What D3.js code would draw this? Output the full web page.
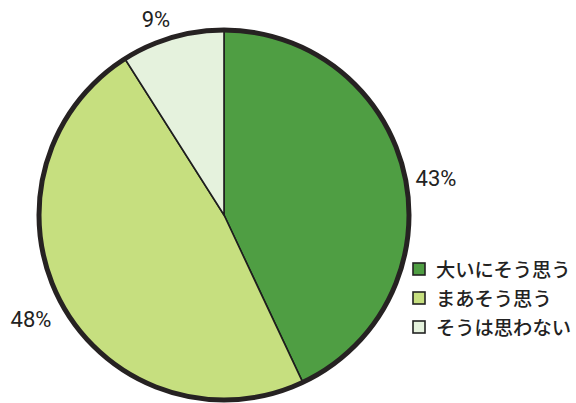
<!DOCTYPE html>
<html><head><meta charset="utf-8">
<script src="https://cdn.jsdelivr.net/npm/d3@7"></script>
<style>body{margin:0;background:#fff}svg{display:block}</style>
</head><body>
<script>
const categories = ["大いにそう思う", "まあそう思う", "そうは思わない"];
const values = [43, 48, 9];
const labels = ["43%", "48%", "9%"];
const colors = ["#4f9e43", "#c6df7f", "#e5f2dd"];

const W = 576, H = 403;
const cx = 224, cy = 215, R = 185;
const svg = d3.select("body").append("svg").attr("width", W).attr("height", H);

const pie = d3.pie().sort(null).value(d => d)(values);
const arc = d3.arc().innerRadius(0).outerRadius(R);
const g = svg.append("g").attr("transform", `translate(${cx},${cy})`);
g.selectAll("path.s").data(pie).join("path")
  .attr("d", arc).attr("fill", (d, i) => colors[i])
  .attr("stroke", "#1e1e1e").attr("stroke-width", 1.6);
g.append("circle").attr("r", R).attr("fill", "none")
  .attr("stroke", "#262222").attr("stroke-width", 5);

// percentage labels
const labelPos = [[436, 178], [31, 319], [156, 19]];
svg.selectAll("text.pct").data(labels).join("text")
  .attr("x", (d, i) => labelPos[i][0]).attr("y", (d, i) => labelPos[i][1])
  .attr("text-anchor", "middle").attr("dominant-baseline", "central")
  .attr("font-family", "Roboto, 'Liberation Sans', sans-serif")
  .attr("font-size", 22).attr("fill", "#222").text(d => d);

// legend
const lg = svg.append("g");
const ly = d3.scalePoint().domain(categories).range([269, 327]);
lg.selectAll("rect").data(categories).join("rect")
  .attr("x", 413).attr("y", d => ly(d) - 6).attr("width", 12).attr("height", 12)
  .attr("fill", (d, i) => colors[i]).attr("stroke", "#222").attr("stroke-width", 1.6);
lg.selectAll("text").data(categories).join("text")
  .attr("x", 436).attr("y", d => ly(d)).attr("dominant-baseline", "central")
  .attr("font-family", "'Noto Sans CJK JP', sans-serif").attr("font-weight", 500)
  .attr("font-size", 19.3).attr("fill", "#222").text(d => d);
</script>
</body></html>
